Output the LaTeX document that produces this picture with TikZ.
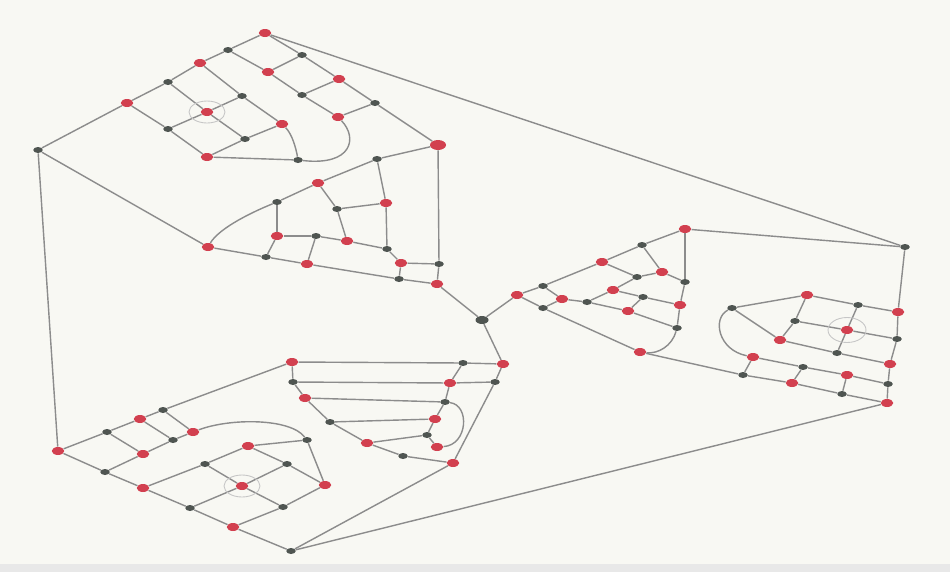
\documentclass[tikz,border=0pt]{standalone}
\usetikzlibrary{shapes.geometric}
\definecolor{dotred}{HTML}{D2404F}
\definecolor{dotgray}{HTML}{4F5551}
\definecolor{linegray}{HTML}{8C8C8C}
\definecolor{paper}{HTML}{F8F8F3}
\begin{document}
\begin{tikzpicture}[x=0.02cm,y=-0.02cm,
    rd/.style={ellipse,fill=dotred,inner sep=0pt,minimum width=0.25cm,minimum height=0.16cm},
    gy/.style={ellipse,fill=dotgray,inner sep=0pt,minimum width=0.19cm,minimum height=0.12cm},
    link/.style={draw=linegray,line width=0.8pt},
    ring/.style={draw=gray!45,line width=0.5pt}]
    \useasboundingbox (0,0) rectangle (950,572);
    \fill[paper] (0,0) rectangle (950,572);
    \fill[gray!18] (0,564) rectangle (950,572);
    \foreach \n/\x/\y in {
        t1/265/33, t3/200/63, t5/127/103, t7/268/72, t8/339/79, t11/207/112,
        t13/338/117, t14/282/124, t17/207/157,
        m2/318/183, m4/208/247, m5/386/203, m7/277/236, m9/347/241,
        m12/307/264, m13/401/263, m16/437/284,
        c1/517/295, c3/602/262, c5/685/229, c7/640/352, c8/562/299,
        c10/613/290, c12/662/272, c14/628/311, c16/680/305,
        r1/807/295, r4/898/312, r6/847/330, r8/780/340, r10/753/357,
        r11/890/364, r14/847/375, r15/792/383, r18/887/403,
        b1/58/451, b3/140/419, b5/292/362, b7/143/454, b9/193/432, b10/143/488,
        b12/233/527, b14/248/446, b16/242/486, b18/325/485,
        n2/503/364, n4/450/383, n6/305/398, n9/435/419, n11/367/443,
        n12/437/447, n14/453/463%
    } \node[rd] (\n) at (\x,\y) {};
    \node[rd,minimum width=0.32cm,minimum height=0.2cm] (t19) at (438,145) {};
    \foreach \n/\x/\y in {
        L/38/150, G/905/247, B/291/551,
        t2/228/50, t4/168/82, t6/302/55, t9/302/95, t10/242/96, t12/375/103,
        t15/168/129, t16/245/139, t18/298/160,
        m1/377/159, m3/277/202, m6/337/209, m8/316/236, m10/387/249,
        m11/266/257, m14/439/264, m15/399/279,
        c2/543/286, c4/642/245, c6/543/308, c9/587/302, c11/637/277,
        c13/643/297, c15/685/282, c17/677/328,
        r2/732/308, r3/858/305, r5/795/321, r7/897/339, r9/837/353,
        r12/803/367, r13/743/375, r16/888/384, r17/842/394,
        b2/107/432, b4/163/410, b6/105/472, b8/173/440, b11/190/508,
        b13/205/464, b15/307/440, b17/287/464, b19/283/507,
        n1/463/363, n3/293/382, n5/495/382, n7/445/402, n8/330/422,
        n10/427/435, n13/403/456%
    } \node[gy] (\n) at (\x,\y) {};
    \node[gy,minimum width=0.26cm,minimum height=0.16cm] (C) at (482,320) {};
    \foreach \a/\b in {
        L/t5, L/b1, L/m4, t1/G, c5/G, C/m16, C/c1, C/n2, B/n14, B/r18, B/b12,
        t5/t4, t4/t3, t3/t2, t2/t1, t1/t6, t6/t8, t8/t12, t12/t19,
        t2/t7, t7/t9, t9/t13, t3/t10, t10/t14, t4/t11, t11/t16, t5/t15, t15/t17,
        t6/t7, t8/t9, t12/t13, t15/t11, t11/t10, t17/t16, t16/t14, t17/t18,
        t19/m1, m1/m2, m2/m3, t19/m14, m14/m16, m1/m5, m5/m10, m10/m13,
        m4/m11, m11/m12, m12/m15, m15/m16, m2/m6, m6/m9, m6/m5, m3/m7,
        m7/m11, m7/m8, m8/m9, m8/m12, m9/m10, m13/m14, m13/m15,
        c1/c2, c2/c3, c3/c4, c4/c5, c1/c6, c6/c7, c5/c15, c15/c16, c16/c17,
        c2/c8, c8/c6, c8/c9, c9/c14, c14/c17, c9/c10, c10/c11, c11/c12,
        c10/c13, c13/c16, c4/c12, c3/c11, c12/c15, c14/c13, c7/r13,
        G/r4, r4/r7, r7/r11, r11/r16, r16/r18, r2/r1, r1/r3, r3/r4,
        r5/r6, r6/r7, r2/r8, r8/r9, r9/r11, r10/r12, r12/r14, r14/r16,
        r13/r15, r15/r17, r17/r18, r1/r5, r5/r8, r3/r6, r6/r9,
        r10/r13, r12/r15, r14/r17,
        b1/b2, b2/b3, b3/b4, b4/b5, b1/b6, b6/b10, b10/b11, b11/b12,
        b6/b7, b7/b8, b8/b9, b2/b7, b3/b8, b4/b9, b10/b13, b13/b14, b14/b15,
        b15/b18, b13/b16, b16/b19, b14/b17, b17/b18, b11/b16, b16/b17,
        b12/b19, b19/b18,
        b5/n1, n1/n2, n2/n5, n5/n14, n3/n4, n4/n5, n1/n4, b5/n3, n3/n6,
        n6/n8, n8/n11, n11/n13, n13/n14, n6/n7, n8/n9, n11/n10, n4/n7,
        n7/n9, n9/n10, n10/n12%
    } \draw[link] (\a) -- (\b);
    \draw[link] (t13) .. controls (358,138) and (352,166) .. (t18);
    \draw[link] (t14) .. controls (292,134) and (296,148) .. (t18);
    \draw[link] (m3) .. controls (245,215) and (218,230) .. (m4);
    \draw[link] (c17) .. controls (672,346) and (658,354) .. (c7);
    \draw[link] (r2) .. controls (712,318) and (718,350) .. (r10);
    \draw[link] (b9) .. controls (230,418) and (290,418) .. (b15);
    \draw[link] (n7) .. controls (470,405) and (468,445) .. (n12);
    \draw[ring] (t11) ellipse [x radius=0.36cm, y radius=0.22cm];
    \draw[ring] (b16) ellipse [x radius=0.36cm, y radius=0.22cm];
    \draw[ring] (r6) ellipse [x radius=0.38cm, y radius=0.25cm];
\end{tikzpicture}
\end{document}
